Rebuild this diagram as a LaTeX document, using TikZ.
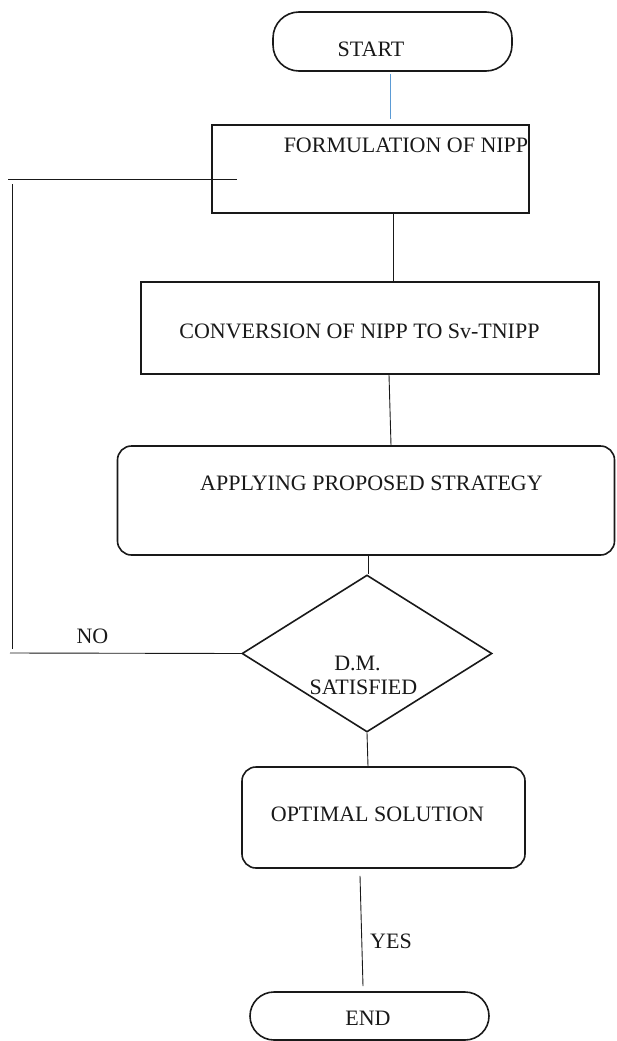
\documentclass[tikz,border=0pt]{standalone}
\usepackage{fontspec}
\setmainfont{Liberation Serif}
\usetikzlibrary{shapes.geometric,calc}
\definecolor{linkblue}{RGB}{91,155,213}
\definecolor{inkc}{RGB}{25,25,25}
\begin{document}
\begin{tikzpicture}[x=1pt,y=-1pt,
  box/.style={draw=inkc,line width=1.6pt,rectangle,inner sep=0pt},
  rbox/.style={box,rounded corners=14pt},
  term/.style={box,rounded corners=26pt},
  decision/.style={draw=inkc,line width=1.6pt,diamond,inner sep=0pt,minimum width=250pt,minimum height=157pt},
  txt/.style={anchor=base,inner sep=0pt,text=inkc,font=\fontsize{22}{24}\selectfont},
  conn/.style={draw=inkc,line width=0.9pt},
  blueconn/.style={draw=linkblue,line width=0.9pt}]
\useasboundingbox (0,0) rectangle (616,1041);
% shapes
\node[term,minimum width=239pt,minimum height=59pt] (start) at (392.5,41.5) {};
\node[box,minimum width=317pt,minimum height=88pt] (form) at (370.5,169) {};
\node[box,minimum width=458pt,minimum height=92pt] (conv) at (370,328) {};
\node[rbox,minimum width=497pt,minimum height=109pt] (appl) at (366,500.5) {};
\node[decision] (dm) at (367,653.5) {};
\node[rbox,minimum width=283pt,minimum height=101pt] (opt) at (383.5,817.5) {};
\node[term,rounded corners=24pt,minimum width=239pt,minimum height=48pt] (end) at (369.5,1016) {};
% texts
\node[txt] (tstart) at (371,57) {START};
\node[txt] (tform) at (406,152) {FORMULATION OF NIPP};
\node[txt] (tconv) at (359.5,338) {CONVERSION OF NIPP TO Sv-TNIPP};
\node[txt] (tappl) at (371.5,490) {APPLYING PROPOSED STRATEGY};
\node[txt] (tdm1) at (357.5,670) {D.M.};
\node[txt] (tdm2) at (363.5,694) {SATISFIED};
\node[txt] (tno) at (92.5,643) {NO};
\node[txt] (topt) at (377.5,821) {OPTIMAL SOLUTION};
\node[txt] (tyes) at (391,948) {YES};
\node[txt] (tend) at (368,1025) {END};
% connectors
\draw[blueconn] ($(start.south)+(-2.5,2)$) -- ($(form.north)+(19.5,-5)$);
\draw[conn] ($(form.south)+(22.5,0)$) -- ($(conv.north)+(23,0)$);
\draw[conn] ($(conv.south)+(19,0)$) -- ($(appl.north)+(25,0)$);
\draw[conn] ($(appl.south)+(2,0)$) -- ($(dm.north)+(1,0)$);
\draw[conn] (dm.south) -- ($(opt.north)+(-15.5,0)$);
\draw[conn] ($(opt.south)+(-23.5,7)$) -- ($(end.north)+(-6.5,-5)$);
% NO loop
\coordinate (nol) at (10,653);
\coordinate (vb) at (12,649);
\coordinate (vt) at (12,184);
\coordinate (hl) at (8,179);
\coordinate (hr) at (237,179);
\draw[conn] (dm.west) -- (nol);
\draw[conn] (vb) -- (vt);
\draw[conn] (hl) -- (hr);
\end{tikzpicture}
\end{document}
